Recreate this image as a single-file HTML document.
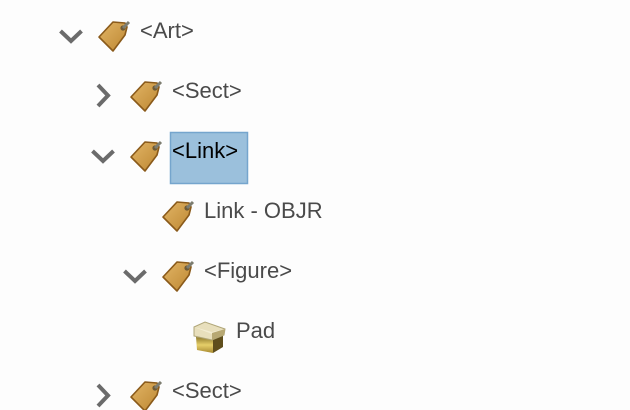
<!DOCTYPE html>
<html>
<head>
<meta charset="utf-8">
<style>
html,body{margin:0;padding:0;background:#fdfdfd;width:630px;height:410px;overflow:hidden}
svg{display:block}
text{font-family:"Liberation Sans",sans-serif;font-size:22px;fill:#4a4a4a}
.c{fill:none;stroke:#6b6b6b;stroke-width:4}
</style>
</head>
<body>
<svg width="630" height="410" viewBox="0 0 630 410" xmlns="http://www.w3.org/2000/svg">
<defs>
<linearGradient id="g" x1="0" y1="0" x2="1" y2="1">
<stop offset="0" stop-color="#e2b566"/>
<stop offset="1" stop-color="#bd8732"/>
</linearGradient>
<linearGradient id="f" x1="0" y1="0" x2="0" y2="1">
<stop offset="0" stop-color="#8f7a2c"/>
<stop offset="0.5" stop-color="#e6cf6a"/>
<stop offset="1" stop-color="#a88a30"/>
</linearGradient>
<g id="tag">
<path d="M1 18 L15 3 L27 4 L29 8 L27 16 L15 32 Z" fill="url(#g)" stroke="#8a5a1a" stroke-width="1.6" stroke-linejoin="round"/>
<circle cx="25" cy="9" r="2.6" fill="#6e5a35"/>
<path d="M25 9 L29 5 L31 3" fill="none" stroke="#7d7d70" stroke-width="3"/>
</g>
</defs>

<rect x="170.500" y="132.500" width="77" height="51" fill="#9bc0dc" stroke="#75a5cd" stroke-width="1.500"/>

<path class="c" d="M60.500 31 L71 41 L81.500 31"/>
<path class="c" d="M98 85 L108 95.500 L98 106"/>
<path class="c" d="M92.500 151 L103 161 L113.500 151"/>
<path class="c" d="M124.500 271 L135 281 L145.500 271"/>
<path class="c" d="M98 385 L108 395.500 L98 406"/>

<use href="#tag" x="98" y="19"/>
<use href="#tag" x="130" y="79"/>
<use href="#tag" x="130" y="139"/>
<use href="#tag" x="162" y="199"/>
<use href="#tag" x="162" y="259"/>
<use href="#tag" x="130" y="379"/>

<g>
<path d="M196 337 L213 339 L213 353 L197 350 Z" fill="url(#f)"/>
<path d="M213 339 L223 335 L223 347 L213 353 Z" fill="#5f4e1c"/>
<path d="M194 327 L205 322 L225 329 L224 335 L212 340 L194 336 Z" fill="#e8dfbc" stroke="#b0a678" stroke-width="1"/>
<path d="M194 327 L212 332 L225 329 L212 334 Z" fill="#f3edd3"/>
<path d="M212 333 L225 329 L224 335 L212 340 Z" fill="#b7a873"/>
</g>

<text x="140" y="38">&lt;Art&gt;</text>
<text x="172" y="98">&lt;Sect&gt;</text>
<text x="172" y="158" style="fill:#000">&lt;Link&gt;</text>
<text x="204" y="218">Link - OBJR</text>
<text x="204" y="278">&lt;Figure&gt;</text>
<text x="236" y="338">Pad</text>
<text x="172" y="398">&lt;Sect&gt;</text>
</svg>
</body>
</html>
